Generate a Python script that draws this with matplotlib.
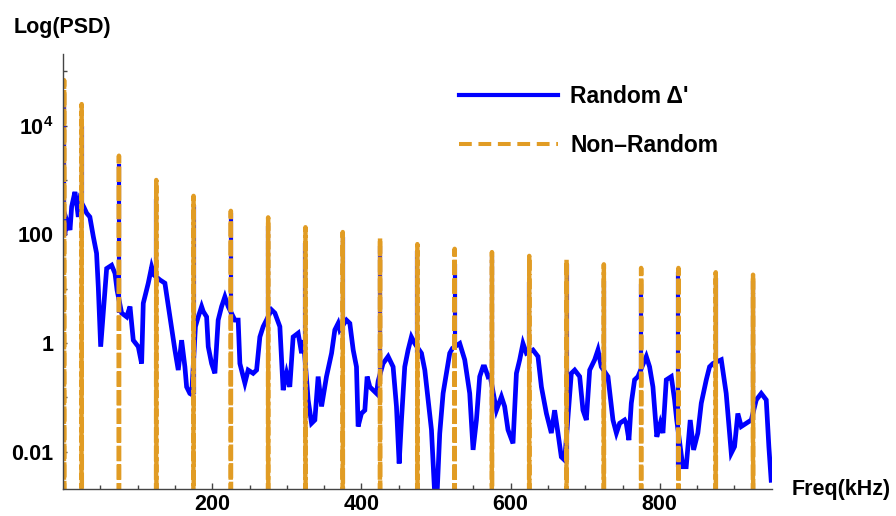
import numpy as np
import matplotlib
matplotlib.use("Agg")
import matplotlib.pyplot as plt
from matplotlib.lines import Line2D
from matplotlib.ticker import FixedLocator, FixedFormatter, NullFormatter

plt.rcParams["font.family"] = ["Liberation Sans", "DejaVu Sans"]
plt.rcParams["font.weight"] = "bold"
plt.rcParams["mathtext.fontset"] = "custom"
plt.rcParams["mathtext.rm"] = "Liberation Sans:bold"
plt.rcParams["mathtext.bf"] = "Liberation Sans:bold"
plt.rcParams["lines.scale_dashes"] = False

BLUE = "#0000FF"
ORANGE = "#E19C24"

# spike positions (kHz) and heights
peak_freq = [1.5, 25, 75, 125, 175, 225, 275, 325, 375, 425, 475,
             525, 575, 625, 675, 725, 775, 825, 875, 925]
nonrandom_peak = [69000, 25000, 2800, 1000, 510, 270, 205, 135, 110, 85, 66,
                  54, 47, 40, 34, 28, 24, 24, 20, 18]
random_peak = [38000, 10000, 2000, 450, 350, 250, 140, 70, 90, 60, 50,
               28, 40, 13, 28, 14, 12, 20, 16, 14]

# blue continuum between the spikes (kHz, log10 PSD)
random_freq = [
    2.7, 5, 9.4, 11.6, 16, 18.3, 20.5, 22.8,
    28, 31.7, 36, 40.6, 45, 47.3, 50.5, 54, 58.5, 65.2, 69.7, 72.5,
    78.6, 85.3, 89.8, 94.2, 100.9, 105.4, 107.6, 114.3, 118.8, 122,
    130, 136.6, 143.3, 150, 154.5, 159, 163.4, 165.7, 170, 172.5,
    177.5, 181.3, 185.8, 188, 192.5, 194.7, 199.2, 203.6, 208, 212.6, 217, 221.4,
    230.4, 234.8, 237.1, 243.8, 248.2, 254.9, 259.5, 263.9, 268.3, 272,
    279.5, 284, 290.7, 295.1, 299.7, 304, 308.5, 315.2, 319.8, 322.5,
    328.6, 333.2, 337.6, 342, 346.6, 353.2, 360, 364.4, 368.8, 371,
    380, 384.5, 389, 393.4, 395.6, 400, 404.6, 407.7, 411.3, 415.7, 420.2, 422.5,
    429, 435.8, 442.5, 447, 450.6, 453.7, 458.1, 462.6, 467, 471.5,
    480.5, 485, 489.4, 493.9, 498.3, 501.4, 505, 509.5, 514, 518.4, 522,
    531.8, 538.5, 545.2, 549.7, 554.2, 558.6, 563, 565.3, 569.7, 572.5,
    581, 587.7, 592, 596.5, 603.2, 607.8, 612.2, 616.6, 621.2,
    630, 636.7, 641.3, 648, 654.6, 659, 663.5, 668, 672.5,
    681.4, 685.9, 692.6, 697, 701.5, 706, 712.7, 717.1, 721.6,
    730.5, 737.2, 741.8, 746.2, 752.8, 755, 758.6, 761.8, 766.2, 770.7,
    781.9, 786.3, 790.8, 796, 800.7, 804.2, 808.7, 815.4, 819.8, 822.5,
    830.9, 835.4, 840.8, 845.3, 851, 855.6, 862.3, 866.7, 871.2,
    882.4, 889, 895.8, 900.2, 904.6, 909.2, 915.9, 922.6,
    929.3, 936, 942.7, 946.2, 949.3,
]
random_log10 = [
    2.02, 2.26, 2.08, 2.51, 2.78, 2.57, 2.32, 2.63,
    2.50, 2.39, 2.32, 1.96, 1.65, 1.03, -0.07, 0.55, 1.37, 1.43, 1.28, 0.97,
    0.55, 0.48, 0.67, 0.05, -0.07, -0.38, 0.73, 1.10, 1.40, 1.25,
    1.16, 1.10, 0.48, -0.13, -0.50, 0.05, -0.44, -0.81, -0.93, -0.95,
    0.30, 0.48, 0.67, 0.58, 0.48, -0.07, -0.38, -0.56, 0.42, 0.67, 0.85, 0.67,
    0.42, 0.42, -0.38, -0.74, -0.50, -0.56, -0.50, 0.11, 0.30, 0.40,
    0.61, 0.55, 0.30, -0.87, -0.56, -0.81, 0.11, 0.18, -0.19, 0.05,
    -1.05, -1.48, -1.42, -0.62, -1.17, -0.62, -0.19, 0.24, 0.36, 0.24,
    0.42, 0.36, -0.13, -0.44, -1.54, -1.30, -1.24, -0.62, -0.81, -0.87, -0.93, -0.70,
    -0.38, -0.25, -0.44, -1.17, -2.22, -1.42, -0.44, -0.13, 0.11, -0.01,
    -0.19, -0.50, -1.05, -1.60, -2.80, -2.80, -1.67, -0.93, -0.56, -0.19, -0.10,
    -0.01, -0.31, -0.93, -1.97, -1.42, -0.62, -0.44, -0.44, -0.62, -0.60,
    -1.24, -0.99, -1.17, -1.60, -1.85, -0.56, -0.31, -0.01, -0.19,
    -0.13, -0.25, -0.81, -1.30, -1.66, -1.24, -1.66, -2.10, -2.16,
    -0.56, -0.50, -0.62, -1.24, -1.42, -0.50, -0.31, -0.13, -0.44,
    -0.62, -1.42, -1.66, -1.48, -1.42, -1.48, -1.79, -1.11, -0.68, -0.62,
    -0.25, -0.44, -0.81, -1.73, -1.48, -1.66, -0.68, -0.62, -1.05, -1.40,
    -2.28, -2.28, -1.42, -1.97, -1.66, -1.11, -0.68, -0.44, -0.38,
    -0.31, -0.93, -2.03, -1.91, -1.30, -1.54, -1.48, -1.42,
    -1.05, -0.93, -1.05, -1.91, -2.53,
]

x_major = [200, 400, 600, 800]
x_minor = list(range(50, 950, 50))
y_major = [1e-2, 1, 1e2, 1e4]
y_major_labels = ["0.01", "1", "100", r"$10^{4}$"]
y_minor = [1e-1, 10, 1e3, 1e5]


def spike_bases(freq, vals):
    # lowest neighbouring continuum value on either side of each spike
    freq = np.asarray(freq)
    bases = []
    for p in peak_freq:
        i = np.searchsorted(freq, p)
        near = [vals[j] for j in (i - 1, i) if 0 <= j < len(vals)]
        bases.append(min(near))
    return np.array(bases)


def nonrandom_series(base=1e-5, half_width=0.3):
    xs, ys = [], []
    for p, h in zip(peak_freq, nonrandom_peak):
        xs += [p - half_width, p, p + half_width]
        ys += [base, h, base]
    return np.array(xs), np.array(ys)


fig = plt.figure(figsize=(8.96, 5.16), dpi=100)
ax = fig.add_axes([63 / 896, 1 - 489.3 / 516, (771.7 - 63) / 896, (489.3 - 54.3) / 516])

psd = 10.0 ** np.array(random_log10)
ax.plot(random_freq, psd, color=BLUE, lw=3.4, solid_joinstyle="miter")
ax.vlines(peak_freq, spike_bases(random_freq, psd), random_peak, color=BLUE, lw=3.0)
fn, vn = nonrandom_series()
ax.plot(fn, vn, color=ORANGE, lw=3.2, dashes=(11, 2.4))

ax.set_yscale("log")
ax.set_xlim(0, 950)
ax.set_ylim(10 ** -2.696, 10 ** 5.315)

for s in ["top", "right"]:
    ax.spines[s].set_visible(False)
for s in ["left", "bottom"]:
    ax.spines[s].set_color("#444444")
    ax.spines[s].set_linewidth(1.0)

ax.xaxis.set_major_locator(FixedLocator(x_major))
ax.xaxis.set_minor_locator(FixedLocator(x_minor))
ax.yaxis.set_major_locator(FixedLocator(y_major))
ax.yaxis.set_major_formatter(FixedFormatter(y_major_labels))
ax.yaxis.set_minor_locator(FixedLocator(y_minor))
ax.yaxis.set_minor_formatter(NullFormatter())

ax.tick_params(axis="both", which="both", direction="in", color="#444444",
               width=1.0, labelsize=15.5)
ax.tick_params(axis="x", which="major", length=4.5, pad=3.5)
ax.tick_params(axis="x", which="minor", length=3)
ax.tick_params(axis="y", which="both", length=3, pad=7)

fig.text(14 / 896, 1 - 33.3 / 516, "Log(PSD)", fontsize=15.5, fontweight="bold",
         ha="left", va="baseline")
fig.text(791.7 / 896, 1 - 495 / 516, "Freq(kHz)", fontsize=15.5, fontweight="bold",
         ha="left", va="baseline")

handles = [
    Line2D([], [], color=BLUE, lw=3.0),
    Line2D([], [], color=ORANGE, lw=2.9, dashes=(9.2, 4.8)),
]
ax.legend(handles, ["Random \u0394'", "Non\u2013Random"],
          loc="upper left", bbox_to_anchor=(459 / 896, 1 - 85 / 516),
          bbox_transform=fig.transFigure, frameon=False,
          borderpad=0, borderaxespad=0, handlelength=4.3, handletextpad=0.55,
          labelspacing=1.15, prop={"weight": "bold", "size": 16.5})

fig.savefig("out.png", dpi=100)
